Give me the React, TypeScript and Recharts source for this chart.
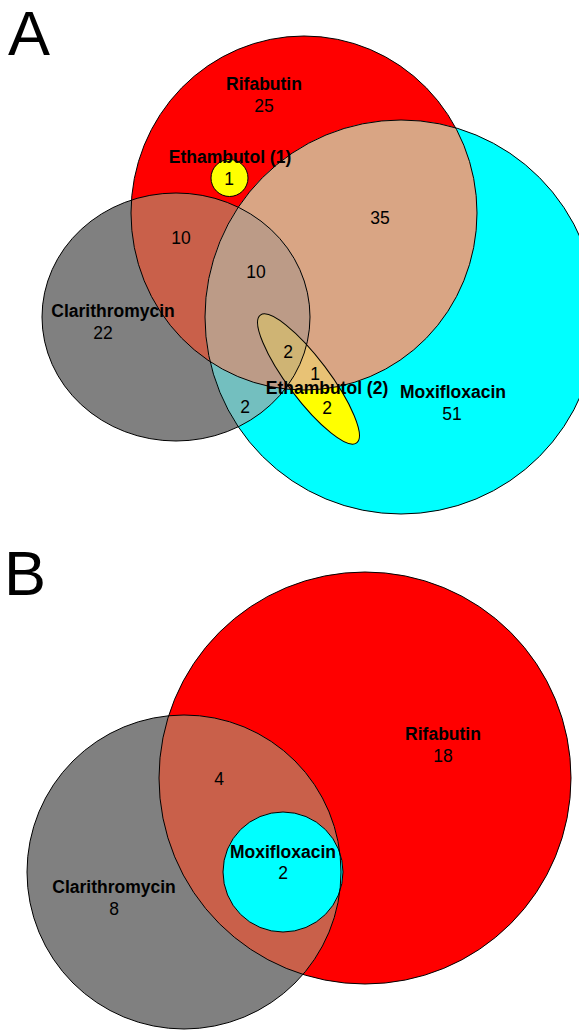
import React from 'react';
import { Scatter, ScatterChart, XAxis, YAxis } from 'recharts';

const WIDTH = 579;
const HEIGHT = 1030;
const FONT = '"Liberation Sans", Arial, Helvetica, sans-serif';

// --- data -------------------------------------------------------------

const setsA = ['Rifabutin', 'Moxifloxacin', 'Clarithromycin', 'Ethambutol (1)', 'Ethambutol (2)'];
const setsB = ['Rifabutin', 'Moxifloxacin', 'Clarithromycin'];

const regionsA = [
  'Rifabutin',
  'Moxifloxacin',
  'Clarithromycin',
  'Rifabutin&Ethambutol (1)',
  'Moxifloxacin&Ethambutol (2)',
  'Rifabutin&Moxifloxacin',
  'Rifabutin&Clarithromycin',
  'Rifabutin&Moxifloxacin&Clarithromycin',
  'Moxifloxacin&Clarithromycin',
  'Rifabutin&Moxifloxacin&Ethambutol (2)',
  'Rifabutin&Moxifloxacin&Clarithromycin&Ethambutol (2)'
];
const countsA = [25, 51, 22, 1, 2, 35, 10, 10, 2, 1, 2];

const regionsB = ['Rifabutin', 'Moxifloxacin', 'Clarithromycin', 'Rifabutin&Clarithromycin'];
const countsB = [18, 2, 8, 4];

// --- layout (euler fit, in axis units: 1 unit = 1px) --------------------

// [x, y, rx, ry, angle] for each set
const shapesA = [
  [304, 213, 173, 177, 0],
  [401, 317, 196, 197, 0],
  [176, 317, 134, 124, 0],
  [229.5, 178, 18.5, 18.5, 0],
  [308.5, 379, 80, 20.5, 53]
];
const shapesB = [
  [365, 778, 206, 206, 0],
  [283, 872, 60, 60, 0],
  [184, 872, 157, 157, 0]
];

const namePosA = [[264, 84], [453, 392], [113, 311], [230, 157], [327, 388]];
const countPosA = [
  [264, 106], [452, 414], [103, 333], [229, 179], [327, 408], [380, 218],
  [181, 238], [256, 272], [245, 407], [315, 374], [288, 352]
];
const namePosB = [[443, 734], [283, 852], [114, 887]];
const countPosB = [[443, 756], [283, 873], [114, 909], [219, 779]];

const setColors: Record<string, string> = {
  Rifabutin: '#ff0000',
  Moxifloxacin: '#00ffff',
  Clarithromycin: '#808080',
  'Ethambutol (1)': '#ffff00',
  'Ethambutol (2)': '#ffff00'
};

// --- build series ------------------------------------------------------

const toShape = (panel: string, sets: string[], shapes: number[][]) =>
  shapes.map((s, i) => ({
    id: `${panel}${i}`,
    set: sets[i],
    x: s[0],
    y: s[1],
    rx: s[2],
    ry: s[3],
    angle: s[4],
    fill: setColors[sets[i]]
  }));

const ellA = toShape('a', setsA, shapesA);
const ellB = toShape('b', setsB, shapesB);
const find = (list: any[], name: string) => list.find((e) => e.set === name);

// blended colours for overlaps: base shape clipped by the others
const overlap = (list: any[], base: string, others: string[], fill: string) => ({
  ...find(list, base),
  clips: others.map((o) => find(list, o).id),
  fill
});

const overlapsA = [
  overlap(ellA, 'Clarithromycin', ['Rifabutin'], '#c9604a'),
  overlap(ellA, 'Moxifloxacin', ['Rifabutin'], '#d9a584'),
  overlap(ellA, 'Moxifloxacin', ['Clarithromycin'], '#73bfbf'),
  overlap(ellA, 'Moxifloxacin', ['Rifabutin', 'Clarithromycin'], '#bc9b87')
];
const overlapsA2 = [
  overlap(ellA, 'Ethambutol (2)', ['Rifabutin'], '#e8c275'),
  overlap(ellA, 'Ethambutol (2)', ['Rifabutin', 'Clarithromycin'], '#cfb474')
];
const overlapsB = [overlap(ellB, 'Clarithromycin', ['Rifabutin'], '#c9604a')];

const labels = [
  ...setsA.map((t, i) => ({ x: namePosA[i][0], y: namePosA[i][1], text: t, bold: true })),
  ...countsA.map((c, i) => ({ x: countPosA[i][0], y: countPosA[i][1], text: String(c), bold: false, region: regionsA[i] })),
  ...setsB.map((t, i) => ({ x: namePosB[i][0], y: namePosB[i][1], text: t, bold: true })),
  ...countsB.map((c, i) => ({ x: countPosB[i][0], y: countPosB[i][1], text: String(c), bold: false, region: regionsB[i] }))
];
const panelTags = [
  { x: 8, y: 55, text: 'A' },
  { x: 4, y: 595, text: 'B' }
];

// --- shapes ------------------------------------------------------------

const ell = (cx: number, cy: number, p: any) => ({
  cx,
  cy,
  rx: p.rx,
  ry: p.ry,
  transform: p.angle ? `rotate(${p.angle} ${cx} ${cy})` : undefined
});

const SetFill = (props: any) => {
  const { cx, cy, payload } = props;
  return (
    <g>
      <clipPath id={`clip-${payload.id}`}>
        <ellipse {...ell(cx, cy, payload)} />
      </clipPath>
      <ellipse {...ell(cx, cy, payload)} fill={payload.fill} />
    </g>
  );
};

const RegionFill = (props: any) => {
  const { cx, cy, payload } = props;
  let node = <ellipse {...ell(cx, cy, payload)} fill={payload.fill} />;
  payload.clips.forEach((id: string) => {
    node = <g clipPath={`url(#clip-${id})`}>{node}</g>;
  });
  return node;
};

const Outline = (props: any) => {
  const { cx, cy, payload } = props;
  return <ellipse {...ell(cx, cy, payload)} fill="none" stroke="#000" strokeWidth={1} />;
};

const Label = (props: any) => {
  const { cx, cy, payload } = props;
  return (
    <text
      x={cx}
      y={cy}
      dy="0.36em"
      textAnchor="middle"
      fontFamily={FONT}
      fontSize={17.5}
      fontWeight={payload.bold ? 'bold' : 'normal'}
      fill="#000"
    >
      {payload.text}
    </text>
  );
};

const Tag = (props: any) => {
  const { cx, cy, payload } = props;
  return (
    <text x={cx} y={cy} fontFamily={FONT} fontSize={63} fill="#000">
      {payload.text}
    </text>
  );
};

export default function App() {
  const fillOrderA = ['Rifabutin', 'Clarithromycin', 'Moxifloxacin'].map((n) => find(ellA, n));
  const fillOrderB = ['Rifabutin', 'Clarithromycin'].map((n) => find(ellB, n));
  return (
    <div style={{ position: 'absolute', left: 0, top: 0 }}>
      <ScatterChart width={WIDTH} height={HEIGHT} margin={{ top: 0, right: 0, bottom: 0, left: 0 }}>
        <XAxis type="number" dataKey="x" domain={[0, WIDTH]} hide />
        <YAxis type="number" dataKey="y" domain={[0, HEIGHT]} reversed hide />

        {fillOrderA.map((e) => (
          <Scatter key={e.id} data={[e]} shape={SetFill} isAnimationActive={false} />
        ))}
        {overlapsA.map((e, i) => (
          <Scatter key={`oa${i}`} data={[e]} shape={RegionFill} isAnimationActive={false} />
        ))}
        <Scatter data={[find(ellA, 'Ethambutol (1)'), find(ellA, 'Ethambutol (2)')]} shape={SetFill} isAnimationActive={false} />
        {overlapsA2.map((e, i) => (
          <Scatter key={`ob${i}`} data={[e]} shape={RegionFill} isAnimationActive={false} />
        ))}

        {fillOrderB.map((e) => (
          <Scatter key={e.id} data={[e]} shape={SetFill} isAnimationActive={false} />
        ))}
        {overlapsB.map((e, i) => (
          <Scatter key={`oc${i}`} data={[e]} shape={RegionFill} isAnimationActive={false} />
        ))}
        <Scatter data={[find(ellB, 'Moxifloxacin')]} shape={SetFill} isAnimationActive={false} />

        <Scatter data={[...ellA, ...ellB]} shape={Outline} isAnimationActive={false} />
        <Scatter data={labels} shape={Label} isAnimationActive={false} />
        <Scatter data={panelTags} shape={Tag} isAnimationActive={false} />
      </ScatterChart>
    </div>
  );
}
